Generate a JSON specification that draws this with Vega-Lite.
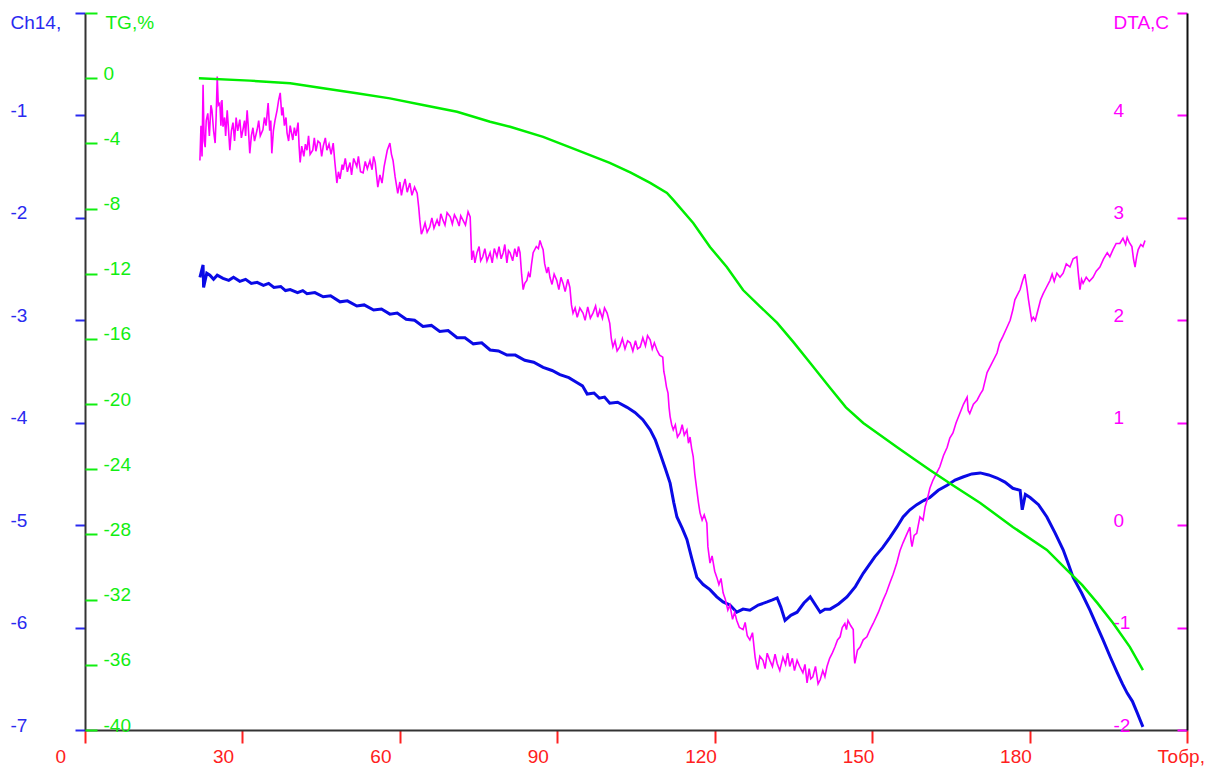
{
  "$schema": "https://vega.github.io/schema/vega-lite/v6.json",
  "autosize": "none",
  "width": 1102,
  "height": 717,
  "padding": {"left": 85, "top": 13, "right": 32, "bottom": 37},
  "background": "white",
  "config": {"view": {"stroke": null}, "font": "Liberation Sans", "axis": {"grid": false, "labelFont": "Liberation Sans", "titleFont": "Liberation Sans", "labelFontSize": 19, "titleFontSize": 19, "titleFontWeight": "normal", "labelOverlap": false, "labelFlush": false}},
  "datasets": {
    "ch14": [
      {"T":21.9,"v":-2.58},{"T":22.5,"v":-2.46},{"T":22.6,"v":-2.68},{"T":23.2,"v":-2.54},{"T":23.8,"v":-2.56},{"T":24.5,"v":-2.6},{"T":25.2,"v":-2.56},{"T":26.3,"v":-2.59},{"T":27.4,"v":-2.61},{"T":28.3,"v":-2.58},{"T":29.5,"v":-2.62},{"T":30.6,"v":-2.6},{"T":31.7,"v":-2.64},{"T":32.8,"v":-2.63},{"T":34,"v":-2.66},{"T":35,"v":-2.64},{"T":36,"v":-2.68},{"T":37.3,"v":-2.67},{"T":38.2,"v":-2.71},{"T":39.1,"v":-2.7},{"T":40.5,"v":-2.73},{"T":41.5,"v":-2.71},{"T":42.3,"v":-2.74},{"T":43.8,"v":-2.73},{"T":45.4,"v":-2.77},{"T":46.8,"v":-2.76},{"T":48.6,"v":-2.82},{"T":50,"v":-2.81},{"T":51.8,"v":-2.86},{"T":53.2,"v":-2.85},{"T":55,"v":-2.9},{"T":56.5,"v":-2.89},{"T":58.1,"v":-2.94},{"T":59.5,"v":-2.93},{"T":61.2,"v":-2.99},{"T":62.8,"v":-3.0},{"T":64.4,"v":-3.06},{"T":66,"v":-3.05},{"T":67.6,"v":-3.11},{"T":69.2,"v":-3.1},{"T":70.9,"v":-3.17},{"T":72.4,"v":-3.17},{"T":74,"v":-3.23},{"T":75.6,"v":-3.22},{"T":77.2,"v":-3.29},{"T":78.8,"v":-3.3},{"T":80.4,"v":-3.34},{"T":82,"v":-3.34},{"T":83.8,"v":-3.39},{"T":85.5,"v":-3.41},{"T":87.3,"v":-3.46},{"T":89,"v":-3.49},{"T":90.5,"v":-3.53},{"T":92.2,"v":-3.56},{"T":93.8,"v":-3.61},{"T":94.8,"v":-3.64},{"T":95.7,"v":-3.72},{"T":97,"v":-3.71},{"T":98,"v":-3.76},{"T":99,"v":-3.75},{"T":100,"v":-3.81},{"T":101.5,"v":-3.8},{"T":103.3,"v":-3.85},{"T":104.8,"v":-3.9},{"T":106.3,"v":-3.97},{"T":107.7,"v":-4.07},{"T":108.7,"v":-4.17},{"T":109.6,"v":-4.3},{"T":110.6,"v":-4.45},{"T":111.5,"v":-4.59},{"T":112.2,"v":-4.78},{"T":112.8,"v":-4.92},{"T":113.8,"v":-5.03},{"T":114.7,"v":-5.14},{"T":115.6,"v":-5.32},{"T":116.6,"v":-5.51},{"T":117.8,"v":-5.58},{"T":119.1,"v":-5.63},{"T":120.4,"v":-5.7},{"T":121.6,"v":-5.75},{"T":122.9,"v":-5.78},{"T":124.2,"v":-5.85},{"T":125.4,"v":-5.82},{"T":126.7,"v":-5.83},{"T":128.3,"v":-5.78},{"T":130,"v":-5.75},{"T":131,"v":-5.73},{"T":131.9,"v":-5.71},{"T":132.6,"v":-5.8},{"T":133.4,"v":-5.93},{"T":134.5,"v":-5.88},{"T":135.7,"v":-5.85},{"T":137,"v":-5.76},{"T":138.2,"v":-5.7},{"T":139.2,"v":-5.78},{"T":140.1,"v":-5.85},{"T":141,"v":-5.82},{"T":142,"v":-5.82},{"T":143.6,"v":-5.77},{"T":145.2,"v":-5.7},{"T":146.8,"v":-5.6},{"T":148.3,"v":-5.47},{"T":149.4,"v":-5.39},{"T":150.5,"v":-5.31},{"T":152,"v":-5.22},{"T":153.4,"v":-5.12},{"T":154.7,"v":-5.02},{"T":155.9,"v":-4.92},{"T":157.2,"v":-4.85},{"T":158.5,"v":-4.8},{"T":159.8,"v":-4.76},{"T":161,"v":-4.73},{"T":162.6,"v":-4.66},{"T":164.3,"v":-4.61},{"T":165.8,"v":-4.56},{"T":167.3,"v":-4.53},{"T":169,"v":-4.5},{"T":170.6,"v":-4.49},{"T":172.2,"v":-4.51},{"T":173.8,"v":-4.54},{"T":175.3,"v":-4.58},{"T":176.8,"v":-4.64},{"T":178.2,"v":-4.66},{"T":178.6,"v":-4.85},{"T":179.2,"v":-4.7},{"T":180.1,"v":-4.73},{"T":181.7,"v":-4.8},{"T":183.3,"v":-4.92},{"T":184.9,"v":-5.08},{"T":186.4,"v":-5.24},{"T":187.4,"v":-5.38},{"T":188.3,"v":-5.51},{"T":189.9,"v":-5.66},{"T":191.5,"v":-5.83},{"T":192.8,"v":-5.98},{"T":194,"v":-6.12},{"T":195.4,"v":-6.29},{"T":196.7,"v":-6.44},{"T":197.7,"v":-6.55},{"T":198.6,"v":-6.64},{"T":199.6,"v":-6.72},{"T":200.5,"v":-6.83},{"T":201.6,"v":-6.97}
    ],
    "tg": [
      {"T":21.7,"v":0},{"T":31.4,"v":-0.15},{"T":39.1,"v":-0.31},{"T":45.4,"v":-0.62},{"T":51.8,"v":-0.93},{"T":58.1,"v":-1.24},{"T":64.4,"v":-1.65},{"T":70.9,"v":-2.06},{"T":77.2,"v":-2.67},{"T":81,"v":-2.98},{"T":87.3,"v":-3.6},{"T":93.8,"v":-4.41},{"T":100,"v":-5.2},{"T":104,"v":-5.8},{"T":107.7,"v":-6.43},{"T":110.9,"v":-7.04},{"T":112.1,"v":-7.47},{"T":115.9,"v":-8.89},{"T":119.1,"v":-10.36},{"T":122.3,"v":-11.59},{"T":125.4,"v":-13},{"T":128.6,"v":-14},{"T":131.9,"v":-15.02},{"T":135,"v":-16.2},{"T":138.2,"v":-17.48},{"T":142,"v":-19.01},{"T":145,"v":-20.2},{"T":148.3,"v":-21.16},{"T":151.5,"v":-21.9},{"T":154.7,"v":-22.63},{"T":157.9,"v":-23.35},{"T":161,"v":-24.05},{"T":165,"v":-24.9},{"T":170.6,"v":-26.07},{"T":176.8,"v":-27.54},{"T":183.3,"v":-28.95},{"T":187.1,"v":-30.18},{"T":190,"v":-31.1},{"T":192.9,"v":-32.2},{"T":195.9,"v":-33.43},{"T":199.1,"v":-34.9},{"T":201.6,"v":-36.32}
    ],
    "dta": [
      {"T":21.9,"v":3.56},{"T":22.1,"v":3.9},{"T":22.3,"v":3.6},{"T":22.5,"v":4.3},{"T":22.7,"v":3.75},{"T":22.9,"v":3.69},{"T":23.1,"v":3.95},{"T":23.4,"v":4.02},{"T":23.7,"v":3.8},{"T":24,"v":4.1},{"T":24.2,"v":4.05},{"T":24.5,"v":3.85},{"T":24.8,"v":3.73},{"T":25,"v":4},{"T":25.2,"v":4.38},{"T":25.4,"v":4.1},{"T":25.7,"v":4.12},{"T":25.9,"v":3.9},{"T":26.1,"v":4.15},{"T":26.3,"v":3.89},{"T":26.6,"v":3.98},{"T":26.8,"v":3.8},{"T":27.1,"v":4.05},{"T":27.3,"v":3.9},{"T":27.6,"v":3.66},{"T":27.9,"v":3.85},{"T":28.2,"v":3.93},{"T":28.5,"v":3.75},{"T":28.8,"v":3.98},{"T":29.1,"v":3.85},{"T":29.5,"v":3.96},{"T":29.8,"v":3.78},{"T":30.1,"v":3.86},{"T":30.4,"v":3.95},{"T":30.6,"v":3.8},{"T":30.9,"v":4.05},{"T":31.1,"v":3.9},{"T":31.4,"v":3.63},{"T":31.7,"v":3.8},{"T":32,"v":3.88},{"T":32.3,"v":3.75},{"T":32.8,"v":3.86},{"T":33.1,"v":3.95},{"T":33.4,"v":3.8},{"T":33.9,"v":3.86},{"T":34.2,"v":3.98},{"T":34.5,"v":3.9},{"T":34.9,"v":4.12},{"T":35.2,"v":3.85},{"T":35.4,"v":3.95},{"T":35.6,"v":3.63},{"T":35.9,"v":3.85},{"T":36.2,"v":3.95},{"T":36.6,"v":4.05},{"T":36.9,"v":4.15},{"T":37.2,"v":4.22},{"T":37.5,"v":4},{"T":37.7,"v":4.08},{"T":38,"v":3.9},{"T":38.3,"v":3.98},{"T":38.5,"v":3.83},{"T":38.8,"v":3.75},{"T":39.1,"v":3.9},{"T":39.6,"v":3.76},{"T":39.9,"v":3.88},{"T":40.2,"v":3.8},{"T":40.6,"v":3.93},{"T":40.8,"v":3.7},{"T":41,"v":3.54},{"T":41.3,"v":3.7},{"T":41.7,"v":3.6},{"T":42,"v":3.72},{"T":42.3,"v":3.66},{"T":42.6,"v":3.8},{"T":42.9,"v":3.62},{"T":43.4,"v":3.66},{"T":43.7,"v":3.78},{"T":44,"v":3.65},{"T":44.4,"v":3.75},{"T":44.8,"v":3.73},{"T":45.1,"v":3.6},{"T":45.4,"v":3.7},{"T":45.8,"v":3.78},{"T":46.1,"v":3.66},{"T":46.5,"v":3.72},{"T":46.9,"v":3.62},{"T":47.3,"v":3.73},{"T":47.6,"v":3.55},{"T":48,"v":3.34},{"T":48.3,"v":3.45},{"T":48.6,"v":3.38},{"T":49,"v":3.52},{"T":49.2,"v":3.47},{"T":49.6,"v":3.58},{"T":50,"v":3.45},{"T":50.5,"v":3.54},{"T":50.8,"v":3.42},{"T":51.2,"v":3.58},{"T":51.8,"v":3.5},{"T":52.1,"v":3.6},{"T":52.5,"v":3.45},{"T":53,"v":3.44},{"T":53.4,"v":3.55},{"T":53.8,"v":3.48},{"T":54.3,"v":3.56},{"T":54.7,"v":3.47},{"T":55,"v":3.6},{"T":55.3,"v":3.54},{"T":55.8,"v":3.3},{"T":56.2,"v":3.42},{"T":56.6,"v":3.34},{"T":57,"v":3.5},{"T":57.6,"v":3.66},{"T":58.1,"v":3.73},{"T":58.4,"v":3.62},{"T":58.7,"v":3.56},{"T":59.1,"v":3.4},{"T":59.6,"v":3.24},{"T":60,"v":3.35},{"T":60.3,"v":3.22},{"T":60.6,"v":3.3},{"T":61,"v":3.38},{"T":61.4,"v":3.25},{"T":61.9,"v":3.34},{"T":62.3,"v":3.22},{"T":62.8,"v":3.3},{"T":63.3,"v":3.24},{"T":63.6,"v":3.1},{"T":63.8,"v":2.98},{"T":64.1,"v":2.84},{"T":64.4,"v":2.88},{"T":64.8,"v":2.95},{"T":65.2,"v":2.86},{"T":65.7,"v":2.91},{"T":66.1,"v":3},{"T":66.5,"v":2.9},{"T":67.1,"v":2.98},{"T":67.5,"v":2.92},{"T":67.8,"v":3.04},{"T":68.2,"v":2.98},{"T":68.6,"v":2.93},{"T":69,"v":3.05},{"T":69.6,"v":3.01},{"T":70,"v":2.94},{"T":70.4,"v":3.03},{"T":70.9,"v":2.98},{"T":71.3,"v":2.92},{"T":71.6,"v":3.02},{"T":72,"v":2.98},{"T":72.5,"v":2.93},{"T":73,"v":3.06},{"T":73.4,"v":3.01},{"T":73.7,"v":2.59},{"T":74,"v":2.68},{"T":74.3,"v":2.56},{"T":74.7,"v":2.66},{"T":75.1,"v":2.72},{"T":75.4,"v":2.58},{"T":75.8,"v":2.62},{"T":76.2,"v":2.7},{"T":76.6,"v":2.58},{"T":77.2,"v":2.66},{"T":77.6,"v":2.56},{"T":78,"v":2.7},{"T":78.5,"v":2.62},{"T":78.9,"v":2.72},{"T":79.3,"v":2.6},{"T":79.7,"v":2.66},{"T":80,"v":2.74},{"T":80.4,"v":2.56},{"T":80.7,"v":2.68},{"T":81,"v":2.66},{"T":81.5,"v":2.58},{"T":81.9,"v":2.7},{"T":82.3,"v":2.62},{"T":82.6,"v":2.72},{"T":82.9,"v":2.66},{"T":83.2,"v":2.45},{"T":83.5,"v":2.3},{"T":83.8,"v":2.36},{"T":84.2,"v":2.39},{"T":84.5,"v":2.46},{"T":84.8,"v":2.42},{"T":85.1,"v":2.55},{"T":85.4,"v":2.66},{"T":86,"v":2.72},{"T":86.4,"v":2.7},{"T":86.7,"v":2.78},{"T":87,"v":2.73},{"T":87.3,"v":2.69},{"T":87.6,"v":2.55},{"T":88,"v":2.46},{"T":88.3,"v":2.52},{"T":88.6,"v":2.42},{"T":89,"v":2.35},{"T":89.4,"v":2.45},{"T":89.9,"v":2.39},{"T":90.3,"v":2.3},{"T":90.7,"v":2.42},{"T":91.1,"v":2.36},{"T":91.5,"v":2.28},{"T":92,"v":2.4},{"T":92.4,"v":2.32},{"T":92.7,"v":2.15},{"T":93,"v":2.07},{"T":93.4,"v":2.12},{"T":93.8,"v":2.03},{"T":94.3,"v":2.12},{"T":94.9,"v":2.07},{"T":95.3,"v":2},{"T":95.8,"v":2.13},{"T":96.3,"v":2.02},{"T":96.8,"v":2.07},{"T":97.3,"v":2.14},{"T":97.7,"v":2.03},{"T":98.1,"v":2.1},{"T":98.6,"v":2.02},{"T":99,"v":2.12},{"T":99.5,"v":2.07},{"T":100,"v":1.97},{"T":100.3,"v":1.82},{"T":100.6,"v":1.74},{"T":101,"v":1.8},{"T":101.4,"v":1.7},{"T":101.9,"v":1.74},{"T":102.4,"v":1.82},{"T":102.9,"v":1.72},{"T":103.4,"v":1.8},{"T":103.9,"v":1.78},{"T":104.4,"v":1.7},{"T":104.9,"v":1.8},{"T":105.3,"v":1.72},{"T":105.8,"v":1.74},{"T":106.3,"v":1.83},{"T":106.8,"v":1.75},{"T":107.2,"v":1.85},{"T":107.7,"v":1.81},{"T":108.1,"v":1.72},{"T":108.5,"v":1.78},{"T":109,"v":1.71},{"T":109.5,"v":1.66},{"T":110.1,"v":1.64},{"T":110.3,"v":1.5},{"T":110.5,"v":1.45},{"T":110.8,"v":1.35},{"T":111.1,"v":1.29},{"T":111.3,"v":1.15},{"T":111.5,"v":1.06},{"T":111.8,"v":0.98},{"T":112.1,"v":0.93},{"T":112.5,"v":0.98},{"T":112.9,"v":0.86},{"T":113.4,"v":0.9},{"T":113.8,"v":0.98},{"T":114.2,"v":0.88},{"T":114.7,"v":0.93},{"T":115,"v":0.8},{"T":115.3,"v":0.86},{"T":115.6,"v":0.75},{"T":115.9,"v":0.67},{"T":116.2,"v":0.5},{"T":116.6,"v":0.34},{"T":116.9,"v":0.22},{"T":117.2,"v":0.12},{"T":117.6,"v":0.05},{"T":118,"v":0.1},{"T":118.5,"v":0.02},{"T":118.7,"v":-0.21},{"T":119.1,"v":-0.37},{"T":119.5,"v":-0.3},{"T":120,"v":-0.45},{"T":120.4,"v":-0.51},{"T":120.8,"v":-0.58},{"T":121.2,"v":-0.52},{"T":121.6,"v":-0.66},{"T":122,"v":-0.72},{"T":122.5,"v":-0.83},{"T":122.9,"v":-0.78},{"T":123.4,"v":-0.92},{"T":123.8,"v":-0.85},{"T":124.2,"v":-0.93},{"T":124.7,"v":-1},{"T":125.4,"v":-1.02},{"T":125.8,"v":-0.95},{"T":126.2,"v":-1.08},{"T":126.7,"v":-1.12},{"T":127.2,"v":-1.05},{"T":127.7,"v":-1.29},{"T":128,"v":-1.38},{"T":128.2,"v":-1.41},{"T":128.6,"v":-1.28},{"T":129.2,"v":-1.32},{"T":129.6,"v":-1.4},{"T":130,"v":-1.25},{"T":130.5,"v":-1.32},{"T":131,"v":-1.38},{"T":131.5,"v":-1.26},{"T":131.9,"v":-1.35},{"T":132.4,"v":-1.42},{"T":133,"v":-1.29},{"T":133.5,"v":-1.36},{"T":133.9,"v":-1.25},{"T":134.3,"v":-1.38},{"T":134.8,"v":-1.3},{"T":135.2,"v":-1.42},{"T":135.7,"v":-1.32},{"T":136.2,"v":-1.38},{"T":136.8,"v":-1.44},{"T":137.2,"v":-1.36},{"T":137.6,"v":-1.54},{"T":138,"v":-1.4},{"T":138.3,"v":-1.5},{"T":138.7,"v":-1.48},{"T":139.2,"v":-1.38},{"T":139.7,"v":-1.55},{"T":140.1,"v":-1.51},{"T":140.6,"v":-1.42},{"T":141,"v":-1.48},{"T":141.4,"v":-1.38},{"T":141.9,"v":-1.3},{"T":142.4,"v":-1.25},{"T":142.9,"v":-1.19},{"T":143.4,"v":-1.12},{"T":143.9,"v":-1.09},{"T":144.3,"v":-1},{"T":144.8,"v":-0.96},{"T":145.1,"v":-1.02},{"T":145.4,"v":-0.93},{"T":145.9,"v":-0.98},{"T":146.4,"v":-1.02},{"T":146.6,"v":-1.3},{"T":146.7,"v":-1.35},{"T":147.2,"v":-1.22},{"T":147.7,"v":-1.19},{"T":148.3,"v":-1.12},{"T":149,"v":-1.09},{"T":149.6,"v":-1.02},{"T":150.2,"v":-0.96},{"T":151.2,"v":-0.85},{"T":152.1,"v":-0.73},{"T":152.7,"v":-0.66},{"T":153.4,"v":-0.56},{"T":154,"v":-0.48},{"T":154.7,"v":-0.37},{"T":155.3,"v":-0.25},{"T":155.9,"v":-0.17},{"T":156.5,"v":-0.1},{"T":157.2,"v":-0.02},{"T":157.4,"v":-0.15},{"T":157.6,"v":-0.21},{"T":158,"v":-0.1},{"T":158.5,"v":-0.08},{"T":159.1,"v":0.08},{"T":159.7,"v":0.05},{"T":160.1,"v":0.18},{"T":160.5,"v":0.25},{"T":161,"v":0.36},{"T":161.6,"v":0.44},{"T":162.2,"v":0.5},{"T":162.9,"v":0.57},{"T":163.6,"v":0.68},{"T":164.3,"v":0.76},{"T":164.8,"v":0.85},{"T":165.4,"v":0.9},{"T":166,"v":1},{"T":166.7,"v":1.09},{"T":167.4,"v":1.18},{"T":168.1,"v":1.25},{"T":168.3,"v":1.12},{"T":168.6,"v":1.09},{"T":169.3,"v":1.18},{"T":170,"v":1.22},{"T":170.6,"v":1.28},{"T":171.1,"v":1.32},{"T":171.9,"v":1.49},{"T":172.8,"v":1.58},{"T":173.8,"v":1.68},{"T":174.3,"v":1.78},{"T":174.9,"v":1.84},{"T":175.6,"v":1.92},{"T":176.3,"v":2},{"T":176.8,"v":2.1},{"T":177.2,"v":2.2},{"T":177.7,"v":2.25},{"T":178.2,"v":2.3},{"T":178.7,"v":2.39},{"T":179.1,"v":2.45},{"T":179.5,"v":2.32},{"T":179.8,"v":2.2},{"T":180.1,"v":2.1},{"T":180.4,"v":2},{"T":180.7,"v":2.03},{"T":181.1,"v":2},{"T":181.6,"v":2.1},{"T":182.1,"v":2.2},{"T":182.6,"v":2.26},{"T":183.2,"v":2.32},{"T":183.9,"v":2.39},{"T":184.3,"v":2.45},{"T":184.7,"v":2.38},{"T":185.2,"v":2.46},{"T":185.8,"v":2.42},{"T":186.4,"v":2.46},{"T":187,"v":2.55},{"T":187.7,"v":2.52},{"T":188.3,"v":2.6},{"T":189,"v":2.62},{"T":189.3,"v":2.45},{"T":189.6,"v":2.3},{"T":189.9,"v":2.4},{"T":190.2,"v":2.36},{"T":190.8,"v":2.42},{"T":191.4,"v":2.38},{"T":192.1,"v":2.42},{"T":192.7,"v":2.48},{"T":193.4,"v":2.52},{"T":194.1,"v":2.6},{"T":194.8,"v":2.66},{"T":195.3,"v":2.62},{"T":195.9,"v":2.69},{"T":196.5,"v":2.75},{"T":197.2,"v":2.75},{"T":197.8,"v":2.8},{"T":198.3,"v":2.74},{"T":198.6,"v":2.81},{"T":199,"v":2.76},{"T":199.5,"v":2.72},{"T":199.8,"v":2.6},{"T":200.1,"v":2.52},{"T":200.4,"v":2.62},{"T":200.7,"v":2.69},{"T":201.2,"v":2.74},{"T":201.6,"v":2.72},{"T":202,"v":2.78}
    ]
  },
  "layer": [
    {
      "data": {"name": "ch14"},
      "mark": {"type": "line", "color": "#0a0ae6", "strokeWidth": 3, "clip": true},
      "encoding": {
        "x": {"field": "T", "type": "quantitative", "scale": {"domain": [0, 210], "nice": false, "zero": false},
          "axis": {"orient": "bottom", "values": [0, 30, 60, 90, 120, 150, 180, 210], "labelExpr": "datum.value == 210 ? 'Тобр,' : '' + datum.value", "title": null, "domainColor": "#333333", "domainWidth": 2, "tickColor": "#ff2020", "tickWidth": 2, "tickSize": 13, "labelColor": "#ff2020", "labelAlign": "left", "labelOffset": -30, "labelPadding": 4, "labelBaseline": "top"}},
        "y": {"field": "v", "type": "quantitative", "scale": {"domain": [-7, 0], "nice": false, "zero": false},
          "axis": {"orient": "left", "values": [-7, -6, -5, -4, -3, -2, -1, 0], "labelExpr": "datum.value == 0 ? '' : '' + datum.value", "title": "Ch14,", "titleColor": "#2a2af0", "titleAngle": 0, "titleX": -75, "titleY": 9, "titleAlign": "left", "titleBaseline": "middle", "domainColor": "#333333", "domainWidth": 2, "tickColor": "#2a2af0", "tickWidth": 2, "tickSize": 10, "labelColor": "#2a2af0", "labelAlign": "left", "labelPadding": 65, "labelOffset": -5, "labelBaseline": "middle"}}
      }
    },
    {
      "data": {"name": "dta"},
      "mark": {"type": "line", "color": "#ff00ff", "strokeWidth": 1.6, "clip": true},
      "encoding": {
        "x": {"field": "T", "type": "quantitative"},
        "y": {"field": "v", "type": "quantitative", "scale": {"domain": [-2, 5], "nice": false, "zero": false},
          "axis": {"orient": "left", "offset": -1102, "values": [-2, -1, 0, 1, 2, 3, 4, 5], "labelExpr": "datum.value == 5 ? '' : '' + datum.value", "title": "DTA,C", "titleColor": "#ff00ff", "titleAngle": 0, "titleX": -74, "titleY": 9, "titleAlign": "left", "titleBaseline": "middle", "domainColor": "#111111", "domainWidth": 2, "tickColor": "#ff00ff", "tickWidth": 2, "tickSize": 10, "labelColor": "#ff00ff", "labelAlign": "left", "labelPadding": 64, "labelOffset": -5, "labelBaseline": "middle"}}
      }
    },
    {
      "data": {"name": "tg"},
      "mark": {"type": "line", "color": "#00ee00", "strokeWidth": 2.5, "clip": true},
      "encoding": {
        "x": {"field": "T", "type": "quantitative"},
        "y": {"field": "v", "type": "quantitative", "scale": {"domain": [-40, 4], "nice": false, "zero": false},
          "axis": {"orient": "right", "offset": -1102, "values": [-40, -36, -32, -28, -24, -20, -16, -12, -8, -4, 0, 4], "labelExpr": "datum.value == 4 ? '' : '' + datum.value", "title": "TG,%", "titleColor": "#11ee11", "titleAngle": 0, "titleX": 20, "titleY": 9, "titleAlign": "left", "titleBaseline": "middle", "domain": false, "tickColor": "#11ee11", "tickWidth": 2, "tickSize": 12, "labelColor": "#11ee11", "labelAlign": "left", "labelPadding": 6, "labelOffset": -5, "labelBaseline": "middle"}}
      }
    }
  ],
  "resolve": {"scale": {"y": "independent"}, "axis": {"y": "independent"}}
}
